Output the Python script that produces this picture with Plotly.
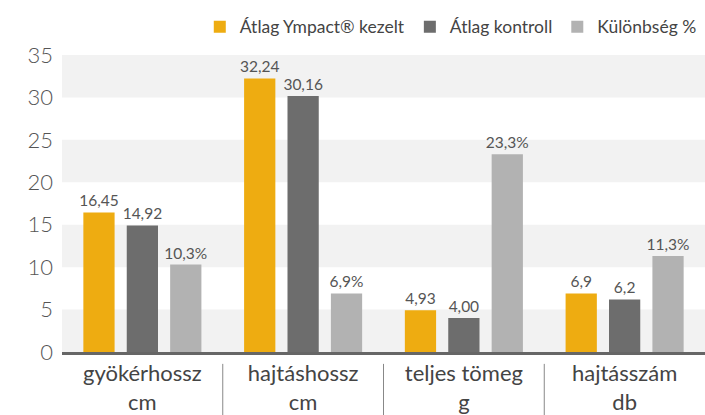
import plotly.graph_objects as go

categories = ["gyökérhossz<br>cm", "hajtáshossz<br>cm", "teljes tömeg<br>g", "hajtásszám<br>db"]
treated = [16.45, 32.24, 4.93, 6.9]
control = [14.92, 30.16, 4.00, 6.2]
diff_pct = [10.3, 6.9, 23.3, 11.3]
treated_labels = ["16,45", "32,24", "4,93", "6,9"]
control_labels = ["14,92", "30,16", "4,00", "6,2"]
diff_labels = ["10,3%", "6,9%", "23,3%", "11,3%"]
series_names = ["Átlag Ympact® kezelt", "Átlag kontroll", "Különbség %"]
colors = ["#EEAC11", "#6D6D6D", "#B2B2B2"]
y_ticks = [0, 5, 10, 15, 20, 25, 30, 35]

FONT = "Lato"
fig = go.Figure()
for name, vals, labels, col in zip(series_names, [treated, control, diff_pct],
                                   [treated_labels, control_labels, diff_labels], colors):
    fig.add_trace(go.Bar(
        x=categories, y=vals, name=name, marker=dict(color=col, line=dict(width=0)),
        text=labels, textposition="outside", cliponaxis=False,
        textfont=dict(family=FONT, size=15.5, color="#555555"),
        hoverinfo="skip",
    ))

# alternating background bands
for y0 in [0, 10, 20, 30]:
    fig.add_shape(type="rect", xref="paper", yref="y", x0=0, x1=1, y0=y0, y1=y0 + 5,
                  fillcolor="#F2F2F2", line=dict(width=0), layer="below")

# category separators below axis
for xb in [0.5, 1.5, 2.5]:
    fig.add_shape(type="line", xref="x", yref="paper", x0=xb, x1=xb, y0=-0.04, y1=-0.22,
                  line=dict(color="#888888", width=1))

fig.update_layout(
    width=705, height=415,
    margin=dict(l=62, r=0, t=55, b=63, autoexpand=False),
    paper_bgcolor="white", plot_bgcolor="white",
    barmode="group", bargap=0.19, bargroupgap=0.28,
    uniformtext=dict(minsize=15.5, mode="show"),
    font=dict(family=FONT, color="#555555"),
    showlegend=True,
    legend=dict(orientation="h", x=0.995, xanchor="right", y=1.095, yanchor="middle",
                font=dict(family=FONT, size=17.5, color="#444444"),
                itemwidth=30, traceorder="normal"),
    xaxis=dict(showgrid=False, showline=True, linecolor="#666666", linewidth=3,
               ticks="", tickfont=dict(family=FONT, size=22, color="#444444"),
               fixedrange=True),
    yaxis=dict(range=[0, 35], tickvals=y_ticks, showgrid=False, zeroline=False,
               showline=False, ticks="", ticklabelstandoff=8,
               tickfont=dict(family=FONT, size=22, color="#555555", weight=300),
               fixedrange=True),
)

fig.write_html("out.html", config={"displayModeBar": False, "staticPlot": True},
               post_script="document.body.style.margin='0';document.body.style.overflow='hidden';")
